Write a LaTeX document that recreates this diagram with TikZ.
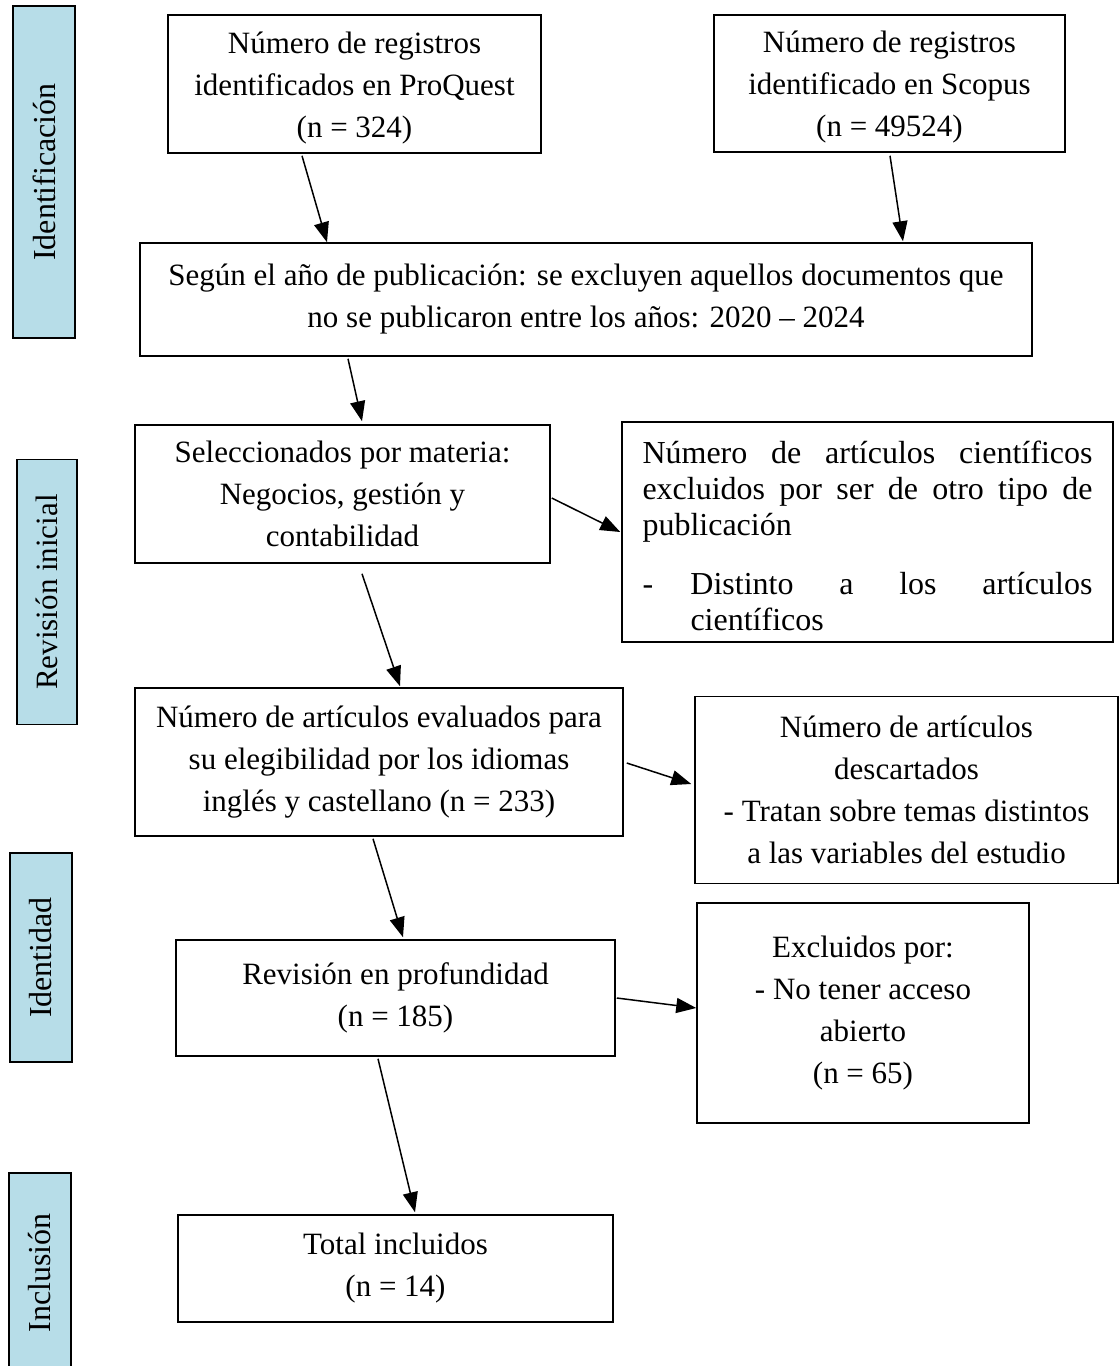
\documentclass[tikz,border=0pt]{standalone}
\usepackage{fontspec}
\setmainfont{Liberation Serif}
\usetikzlibrary{arrows.meta,calc}
\definecolor{sideblue}{HTML}{B7DDE8}
\begin{document}
\begin{tikzpicture}[x=1pt,y=-1pt,
  box/.style={draw,line width=1.5pt,inner sep=0pt,align=center,
    font=\fontsize{31}{42}\selectfont},
  txt/.style={inner sep=0pt,align=center,font=\fontsize{31}{42}\selectfont},
  side/.style={draw,line width=1.5pt,fill=sideblue,inner sep=0pt,rotate=90,
    font=\fontsize{32}{38}\selectfont},
  arr/.style={line width=1.5pt,-{Triangle[length=20pt,width=15pt]}}]
\useasboundingbox (0,0) rectangle (1119,1366);
% side labels (rotated: minimum width is along the text direction)
\node[side,minimum width=332pt,minimum height=62pt] (s1) at (44,172) {Identificación};
\node[side,minimum width=265pt,minimum height=60pt,font=\fontsize{31}{38}\selectfont] (s2) at (47,592) {Revisión inicial};
\node[side,minimum width=209pt,minimum height=62pt] (s3) at (41,957.5) {Identidad};
\node[side,minimum width=200pt,minimum height=62pt] (s4) at (40,1273) {Inclusión};
% main boxes
\node[box,minimum width=373pt,minimum height=138pt] (pq) at (354.5,84) {};
\node[txt] (pqt) at ($(pq)+(0,4)$)
  {Número de registros\\identificados en ProQuest\\(n = 324)};
\node[box,minimum width=351pt,minimum height=137pt] (sc) at (889.5,83.5) {};
\node[txt] (sct) at ($(sc)+(0,4)$)
  {Número de registros\\identificado en Scopus\\(n = 49524)};
\node[box,minimum width=892pt,minimum height=113pt] (yr) at (586,299.5)
  {Según el año de publicación: se excluyen aquellos documentos que\\no se publicaron entre los años: 2020 – 2024};
\node[box,minimum width=415pt,minimum height=138pt] (sel) at (342.5,494)
  {Seleccionados por materia:\\Negocios, gestión y\\contabilidad};
\node[box,minimum width=491pt,minimum height=220pt] (exa) at (867.5,532) {};
\node[txt,align=left,font=\fontsize{32}{36}\selectfont] (exat) at ($(exa)+(0,4)$)
  {\makebox[450pt][s]{Número de artículos científicos}\\
   \makebox[450pt][s]{excluidos por ser de otro tipo de}\\
   publicación\\[23pt]
   \makebox[48pt][l]{-}\makebox[402pt][s]{Distinto a los artículos}\\
   \hspace*{48pt}científicos};
\node[box,minimum width=488pt,minimum height=148pt] (ev) at (379,762)
  {Número de artículos evaluados para\\su elegibilidad por los idiomas\\inglés y castellano (n = 233)};
\node[box,minimum width=423pt,minimum height=187pt] (de) at (906.5,790)
  {Número de artículos\\descartados\\- Tratan sobre temas distintos\\a las variables del estudio};
\node[box,minimum width=439pt,minimum height=116pt] (rv) at (395.5,998)
  {Revisión en profundidad\\(n = 185)};
\node[box,minimum width=332pt,minimum height=220pt] (ex) at (863,1013)
  {Excluidos por:\\- No tener acceso\\abierto\\(n = 65)};
\node[box,minimum width=435pt,minimum height=107pt] (tot) at (395.5,1268.5)
  {Total incluidos\\(n = 14)};
% connectors
\draw[arr] ($(pq.south)+(-52.5,2)$) -- ($(yr.north)+(-259,0)$);
\draw[arr] ($(sc.south)+(0.5,3)$) -- ($(yr.north)+(317,-1)$);
\draw[arr] ($(yr.south)+(-238,2)$) -- ($(sel.north)+(19.5,-3)$);
\draw[arr] ($(sel.east)+(1,4)$) -- ($(exa.west)+(-1,0)$);
\draw[arr] ($(sel.south)+(19.5,10)$) -- ($(ev.north)+(21,-1)$);
\draw[arr] ($(ev.east)+(3,1)$) -- ($(de.west)+(-3,-6)$);
\draw[arr] ($(ev.south)+(-6,2)$) -- ($(rv.north)+(7.5,-2)$);
\draw[arr] ($(rv.east)+(1,0)$) -- ($(ex.west)+(0,-5)$);
\draw[arr] ($(rv.south)+(-17.5,2)$) -- ($(tot.north)+(19.5,-2)$);
\end{tikzpicture}
\end{document}
